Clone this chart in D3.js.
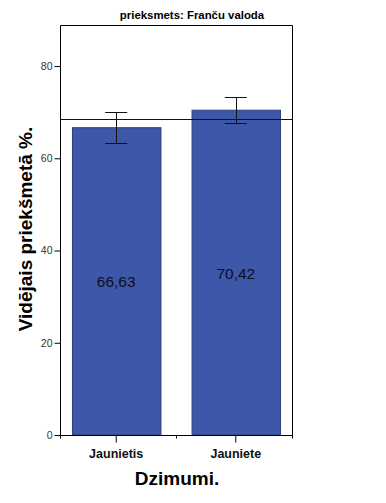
<!DOCTYPE html>
<html>
<head>
<meta charset="utf-8">
<title>prieksmets: Franču valoda</title>
<script src="https://cdn.jsdelivr.net/npm/d3@7"></script>
<style>
  body { margin: 0; background: #fff; }
  text { font-family: "Liberation Sans", Arial, sans-serif; }
</style>
</head>
<body>
<script>
var categories = ["Jaunietis", "Jauniete"];
var means = [66.63, 70.42];
var errLow = [63.3, 67.6];
var errHigh = [70.0, 73.2];
var refLine = 68.5;
var yTicks = [0, 20, 40, 60, 80];

var w = 386, h = 503;
var plotL = 60, plotR = 292, plotT = 25, plotB = 435;

var svg = d3.select("body").append("svg")
    .attr("width", w).attr("height", h);

var x = d3.scaleBand().domain(categories)
    .range([plotL, plotR])
    .paddingInner(0.26).paddingOuter(0.1);
var y = d3.scaleLinear().domain([0, 88.9]).range([plotB, plotT]);

// bars
svg.selectAll(".bar").data(categories).enter().append("rect")
    .attr("x", d => x(d) + 0.5)
    .attr("y", (d, i) => y(means[i]))
    .attr("width", x.bandwidth())
    .attr("height", (d, i) => y(0) - y(means[i]))
    .attr("fill", "#3d57a9")
    .attr("stroke", "#2e3f78")
    .attr("stroke-width", 1);

// value labels
svg.selectAll(".lbl").data(categories).enter().append("text")
    .attr("x", d => x(d) + x.bandwidth() / 2)
    .attr("y", (d, i) => (y(means[i]) + y(0)) / 2 + 6)
    .attr("text-anchor", "middle")
    .attr("font-size", 15.5)
    .attr("fill", "#0d0d1a")
    .text((d, i) => means[i].toFixed(2).replace(".", ","));

// reference line
svg.append("line")
    .attr("x1", plotL).attr("x2", plotR)
    .attr("y1", Math.round(y(refLine)) + 0.5).attr("y2", Math.round(y(refLine)) + 0.5)
    .attr("stroke", "#111").attr("stroke-width", 1);

// error bars
var eb = svg.selectAll(".eb").data(categories).enter().append("g")
    .attr("stroke", "#111").attr("stroke-width", 1);
eb.append("line")
    .attr("x1", d => Math.round(x(d) + x.bandwidth() / 2) + 0.5)
    .attr("x2", d => Math.round(x(d) + x.bandwidth() / 2) + 0.5)
    .attr("y1", (d, i) => y(errHigh[i])).attr("y2", (d, i) => y(errLow[i]));
[errHigh, errLow].forEach(function (arr) {
  eb.append("line")
    .attr("x1", d => x(d) + x.bandwidth() / 2 - 11)
    .attr("x2", d => x(d) + x.bandwidth() / 2 + 11)
    .attr("y1", (d, i) => Math.round(y(arr[i])) + 0.5)
    .attr("y2", (d, i) => Math.round(y(arr[i])) + 0.5);
});

// frame
svg.append("path")
    .attr("d", "M" + (plotL + 0.5) + "," + plotB + "V" + (plotT + 0.5) + "H" + (plotR + 0.5) + "V" + plotB)
    .attr("fill", "none").attr("stroke", "#000");

// y axis
var yAxis = svg.append("g")
    .attr("transform", "translate(" + (plotL + 0.5) + ",0)")
    .call(d3.axisLeft(y).tickValues(yTicks).tickSize(6).tickPadding(2));
yAxis.select(".domain").remove();
yAxis.selectAll("text").attr("font-size", 10.5).attr("fill", "#333")
    .style("font-family", "Liberation Sans, Arial, sans-serif");

// x axis
var xAxis = svg.append("g")
    .attr("transform", "translate(0," + (plotB + 0.5) + ")")
    .call(d3.axisBottom(x).tickSize(7).tickPadding(7));
xAxis.select(".domain").attr("d", "M" + plotL + ",0H" + (plotR + 1));
xAxis.selectAll("text").attr("font-size", 12.5).attr("font-weight", "bold").attr("fill", "#111")
    .style("font-family", "Liberation Sans, Arial, sans-serif");
var bounds = [plotL, (x(categories[0]) + x.bandwidth() + x(categories[1])) / 2, plotR];
xAxis.selectAll(".bnd").data(bounds).enter().append("line")
    .attr("x1", d => Math.round(d) + 0.5).attr("x2", d => Math.round(d) + 0.5)
    .attr("y1", 0).attr("y2", 3).attr("stroke", "#000");

// titles
svg.append("text")
    .attr("x", 192).attr("y", 19)
    .attr("text-anchor", "middle")
    .attr("font-size", 11.4).attr("font-weight", "bold")
    .text("prieksmets: Franču valoda");

svg.append("text")
    .attr("transform", "translate(32," + 229 + ") rotate(-90)")
    .attr("text-anchor", "middle")
    .attr("font-size", 19).attr("font-weight", "bold")
    .text("Vidējais priekšmetā %.");

svg.append("text")
    .attr("x", 177).attr("y", 485)
    .attr("text-anchor", "middle")
    .attr("font-size", 19).attr("font-weight", "bold")
    .text("Dzimumi.");
</script>
</body>
</html>
